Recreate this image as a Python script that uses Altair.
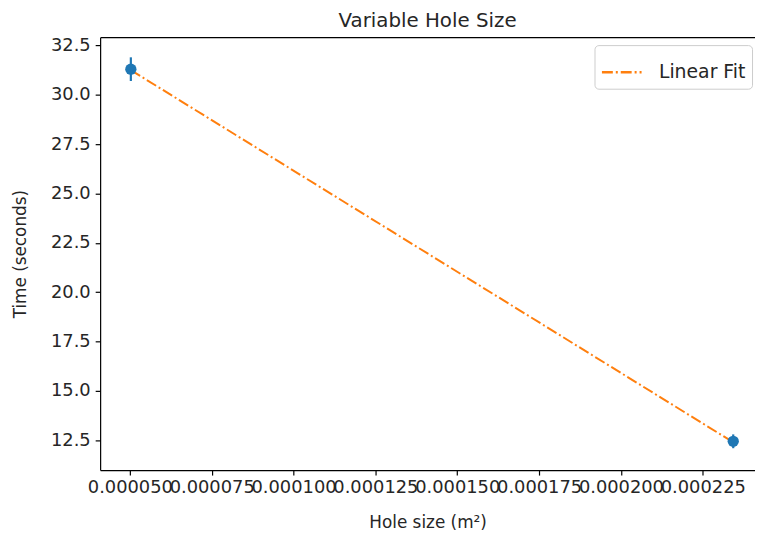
import altair as alt
import pandas as pd

# Measured data (hole area in m^2, drain time in s)
hole_size = [5.03e-5, 2.343e-4]
time_s = [31.3, 12.45]
time_err = [0.6, 0.35]

# Linear fit line
fit_x = [5.03e-5, 2.343e-4]
fit_y = [31.25, 12.4]
fit_label = ["Linear Fit", "Linear Fit"]

x_ticks = [5e-5, 7.5e-5, 1e-4, 1.25e-4, 1.5e-4, 1.75e-4, 2e-4, 2.25e-4]
y_ticks = [12.5, 15.0, 17.5, 20.0, 22.5, 25.0, 27.5, 30.0, 32.5]
title_text = ["Variable Hole Size"]

pts = pd.DataFrame({
    "x": hole_size,
    "y": time_s,
    "lo": [v - e for v, e in zip(time_s, time_err)],
    "hi": [v + e for v, e in zip(time_s, time_err)],
})
fit = pd.DataFrame({"x": fit_x, "y": fit_y, "series": fit_label})
ttl = pd.DataFrame({"t": title_text})

FONT = "DejaVu Sans"
TXT = "#262626"
BLUE = "#1f77b4"
ORANGE = "#ff7f0e"
W, H = 661, 437

xscale = alt.Scale(domain=[4.092e-5, 2.4095e-4], nice=False, zero=False)
yscale = alt.Scale(domain=[10.99, 32.92], nice=False, zero=False)

xaxis = alt.Axis(
    values=x_ticks, format=".6f", title="Hole size (m²)", grid=False,
    labelOverlap=False, labelFlush=False, labelBound=False,
    tickSize=5, labelPadding=4, titlePadding=18,
)
xaxis_top = alt.Axis(
    orient="top", labels=False, ticks=False, grid=False, title=None, domain=True,
)
yaxis = alt.Axis(
    values=y_ticks, format=".1f", title="Time (seconds)", grid=False,
    tickSize=5, labelPadding=5, titlePadding=21,
)

line = alt.Chart(fit).mark_line(strokeWidth=2).encode(
    x=alt.X("x:Q", scale=xscale, axis=xaxis),
    y=alt.Y("y:Q", scale=yscale, axis=yaxis),
    color=alt.Color("series:N", scale=alt.Scale(domain=["Linear Fit"], range=[ORANGE]),
                    legend=alt.Legend(title=None)),
    strokeDash=alt.StrokeDash("series:N",
                              scale=alt.Scale(domain=["Linear Fit"], range=[[11, 3, 2, 3]]),
                              legend=alt.Legend(title=None)),
)

err = alt.Chart(pts).mark_rule(strokeWidth=2.2, color=BLUE).encode(
    x=alt.X("x:Q", scale=xscale, axis=xaxis_top),
    y=alt.Y("lo:Q", scale=yscale, axis=yaxis),
    y2="hi:Q",
)

dots = alt.Chart(pts).mark_circle(size=130, color=BLUE, opacity=1).encode(
    x=alt.X("x:Q", scale=xscale, axis=None),
    y=alt.Y("y:Q", scale=yscale, axis=yaxis),
)

title = alt.Chart(ttl).mark_text(
    font=FONT, fontSize=20, color=TXT, align="center", baseline="alphabetic",
).encode(
    text="t:N", x=alt.value(W / 2), y=alt.value(-10),
)

chart = (
    alt.layer(line, err, dots, title)
    .resolve_axis(x="independent")
    .properties(
        width=W,
        height=H,
        autosize=alt.AutoSizeParams(type="none"),
        padding={"left": 93, "top": 27, "right": 0, "bottom": 60},
    )
    .configure_view(stroke=None)
    .configure_axis(
        labelFont=FONT, titleFont=FONT, labelFontSize=18, titleFontSize=17,
        labelColor=TXT, titleColor=TXT, titleFontWeight="normal",
        domainColor="#000000", tickColor="#000000", domainWidth=1.2, tickWidth=1.2,
    )
    .configure_legend(
        orient="none", legendX=499, legendY=8,
        fillColor="white", strokeColor="#cccccc", cornerRadius=4,
        padding=6, labelFont=FONT, labelFontSize=19, labelColor=TXT,
        symbolType="stroke", symbolSize=1600, symbolStrokeWidth=2.5,
        labelOffset=16,
    )
)

chart.save("out.html", embed_options={"renderer": "svg", "actions": False})
